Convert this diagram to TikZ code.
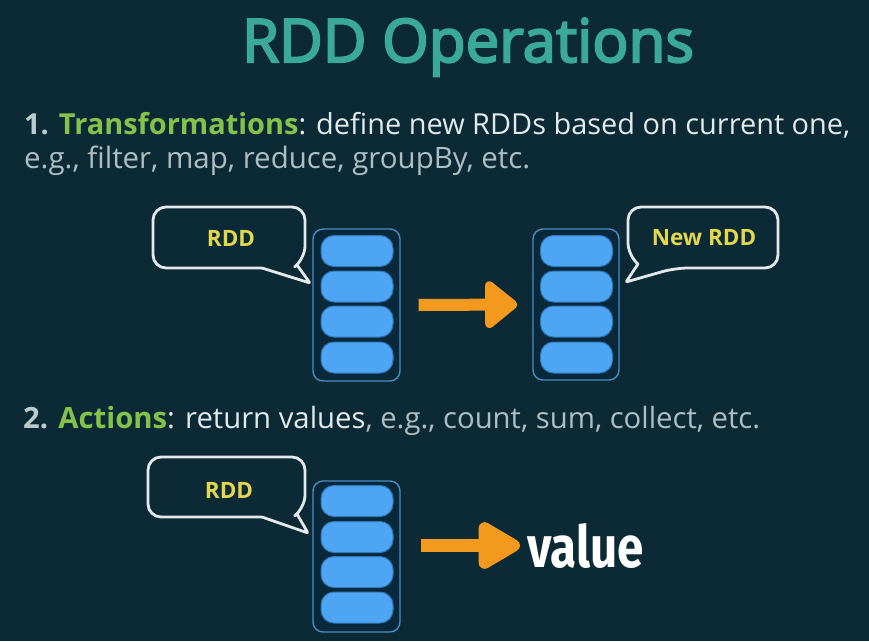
\documentclass[tikz,border=0pt]{standalone}
\usepackage{fontspec}
\setmainfont{Open Sans}
\newfontfamily\titlefont{Open Sans}[FakeBold=3.5]
\newfontfamily\valfont{Fira Sans}
\usetikzlibrary{arrows.meta}
\definecolor{bgc}{HTML}{0C2A35}
\definecolor{titlec}{HTML}{3AA99B}
\definecolor{greenc}{HTML}{84C24A}
\definecolor{whitec}{HTML}{E2EAEC}
\definecolor{greyc}{HTML}{AEBFC3}
\definecolor{numc}{HTML}{B9CBCF}
\definecolor{yellowc}{HTML}{E3D84C}
\definecolor{pillc}{HTML}{4DA5F4}
\definecolor{pilledge}{HTML}{2F78BC}
\definecolor{stackedge}{HTML}{4A8CC2}
\definecolor{stackfill}{HTML}{09293A}
\definecolor{orangec}{HTML}{F39A1E}
\definecolor{chalk}{HTML}{E4EAEC}
\newcommand\fitw[2]{\resizebox{#1}{!}{#2}}
\begin{document}
\begin{tikzpicture}[x=1pt,y=-1pt,
  stackbox/.style={draw=stackedge, line width=1.4pt, fill=stackfill, rounded corners=10pt},
  pill/.style={draw=pilledge, line width=1pt, fill=pillc, rounded corners=13pt},
  bubble/.style={draw=chalk, line width=2.8pt, line join=round},
  bubtext/.style={text=yellowc, font=\fontsize{22.5}{26}\selectfont\bfseries, inner sep=0pt},
  bigarrow/.style={draw=orangec, line width=12pt, -{Triangle[length=35pt,width=54pt,round]}},
  longarrow/.style={draw=orangec, line width=13pt, -{Triangle[length=48pt,width=52pt,round]}},
  txt/.style={anchor=base west, inner sep=0pt}
]
\fill[bgc] (0,0) rectangle (869,641);
\useasboundingbox (0,0) rectangle (869,641);

% title
\node[anchor=base, inner sep=0pt, text=titlec] (title) at (468,62)
  {\titlefont\fontsize{60}{60}\selectfont RDD Operations};

% text lines
\node[txt] (l1) at (24,134) {\fitw{826pt}{\fontsize{24}{28}\selectfont
  \textcolor{numc}{\bfseries 1.} \textcolor{greenc}{\bfseries Transformations}\textcolor{whitec}{: define new RDDs based on current one,}}};
\node[txt] (l2) at (24,168) {\fitw{506pt}{\fontsize{24}{28}\selectfont
  \textcolor{greyc}{e.g., filter, map, reduce, groupBy, etc.}}};
\node[txt] (l3) at (23,428) {\fitw{737pt}{\fontsize{24}{28}\selectfont
  \textcolor{numc}{\bfseries 2.} \textcolor{greenc}{\bfseries Actions}\textcolor{whitec}{: return values}\textcolor{greyc}{, e.g., count, sum, collect, etc.}}};

% stack 1
\node[stackbox, minimum width=87pt, minimum height=152pt, inner sep=0pt] (s1) at (356.5,305) {};
\node[pill, minimum width=72pt, minimum height=31pt, inner sep=0pt] (s1a) at (357,251) {};
\node[pill, minimum width=72pt, minimum height=31pt, inner sep=0pt] (s1b) at (357,286.5) {};
\node[pill, minimum width=72pt, minimum height=31pt, inner sep=0pt] (s1c) at (357,321.5) {};
\node[pill, minimum width=72pt, minimum height=31pt, inner sep=0pt] (s1d) at (357,357.5) {};

% stack 2
\node[stackbox, minimum width=86pt, minimum height=151pt, inner sep=0pt] (s2) at (576,304.5) {};
\node[pill, minimum width=72pt, minimum height=31pt, inner sep=0pt] (s2a) at (576.5,251) {};
\node[pill, minimum width=72pt, minimum height=31pt, inner sep=0pt] (s2b) at (576.5,286.5) {};
\node[pill, minimum width=72pt, minimum height=31pt, inner sep=0pt] (s2c) at (576.5,321.5) {};
\node[pill, minimum width=72pt, minimum height=31pt, inner sep=0pt] (s2d) at (576.5,357.5) {};

% stack 3
\node[stackbox, minimum width=87pt, minimum height=151pt, inner sep=0pt] (s3) at (356.5,556.5) {};
\node[pill, minimum width=72pt, minimum height=31pt, inner sep=0pt] (s3a) at (357,501) {};
\node[pill, minimum width=72pt, minimum height=31pt, inner sep=0pt] (s3b) at (357,537) {};
\node[pill, minimum width=72pt, minimum height=31pt, inner sep=0pt] (s3c) at (357,572) {};
\node[pill, minimum width=72pt, minimum height=31pt, inner sep=0pt] (s3d) at (357,607.5) {};

% bubbles
\draw[bubble] (229,207) [rounded corners=13pt] -- (305,207) -- (305,259)
  [rounded corners=1pt] -- (297,265) -- (310,283) -- (262,268)
  [rounded corners=13pt] -- (153,268) -- (153,207) -- cycle;
\node[bubtext] (b1) at (231,238) {RDD};

\draw[bubble] (703,207) [rounded corners=13pt] -- (778,207) -- (778,268) -- (675,268)
  [rounded corners=1pt] -- (626,282) -- (638,264)
  [rounded corners=13pt] -- (628,256) -- (628,207) -- cycle;
\node[bubtext] (b2) at (704,238) {New RDD};

\draw[bubble] (226,457) [rounded corners=13pt] -- (305,457) -- (305,508)
  [rounded corners=1pt] -- (297,514) -- (308,533) -- (262,517)
  [rounded corners=13pt] -- (148,517) -- (148,457) -- cycle;
\node[bubtext] (b3) at (229,490) {RDD};

% value
\node[anchor=base west, inner sep=0pt, text=white] (val) at (527,567)
  {\scalebox{0.82}[1]{\valfont\fontsize{58}{60}\selectfont\bfseries value}};

% arrows
\draw[bigarrow, shorten <=18pt, shorten >=15pt] (s1.east) -- (s2.west);
\draw[longarrow, shorten <=20pt, shorten >=7pt] (s3.east |- val.west) -- (val.west);
\end{tikzpicture}
\end{document}
